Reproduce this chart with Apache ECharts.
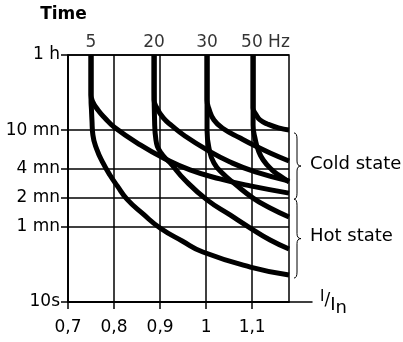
<!DOCTYPE html>
<html><head><meta charset="utf-8">
<script src="https://cdn.jsdelivr.net/npm/echarts@6/dist/echarts.min.js"></script>
<style>html,body{margin:0;padding:0;background:#fff}#c{width:403px;height:342px}</style>
</head><body><div id="c"></div>
<script>
// ---- data ----
const freqNames = ['5', '20', '30', '50 Hz'];
const xTickValues = [0.7, 0.8, 0.9, 1.0, 1.1];
const xTickLabels = ['0,7', '0,8', '0,9', '1', '1,1'];
const yTickValues = [10, 60, 120, 240, 600, 3600];
const yTickLabels = ['10s', '1 mn', '2 mn', '4 mn', '10 mn', '1 h'];
// [I/In, seconds]
const cold5  = [[0.750,3600],[0.750,1800],[0.750,1390],[0.754,1176],[0.765,972],[0.780,803],[0.800,648],[0.857,422],[0.907,310],[0.965,233],[1.030,188],[1.096,159],[1.180,134]];
const hot5   = [[0.750,3600],[0.750,1800],[0.750,1234],[0.751,972],[0.752,766],[0.754,536],[0.763,375],[0.776,275],[0.791,206],[0.807,159],[0.828,116],[0.863,81.5],[0.900,58.3],[0.948,42.8],[0.993,32.9],[1.096,23.0],[1.180,19.0]];
const cold20 = [[0.887,3600],[0.887,1800],[0.887,1234],[0.893,1019],[0.907,803],[0.926,664],[0.954,523],[1.002,375],[1.052,281],[1.107,222],[1.180,179]];
const hot20  = [[0.887,3600],[0.887,1565],[0.888,766],[0.891,475],[0.902,349],[0.922,275],[0.954,183],[1.002,114],[1.052,79.6],[1.096,58.3],[1.139,43.8],[1.180,35.4]];
const cold30 = [[1.002,3600],[1.002,1800],[1.002,1234],[1.007,972],[1.017,766],[1.035,633],[1.074,498],[1.107,412],[1.139,349],[1.180,288]];
const hot30  = [[1.002,3600],[1.002,1390],[1.002,603],[1.007,375],[1.017,275],[1.035,216],[1.063,166],[1.102,119],[1.139,94],[1.180,75.9]];
const cold50 = [[1.102,3600],[1.102,1800],[1.102,1019],[1.109,863],[1.117,766],[1.133,696],[1.157,633],[1.180,603]];
const hot50  = [[1.102,3600],[1.102,1390],[1.102,680],[1.107,475],[1.113,375],[1.124,295],[1.143,233],[1.161,201],[1.180,175]];
const stateNames = ['Cold state', 'Hot state'];
const stateRanges = [[562, 116], [116, 17.7]]; // seconds spanned by each brace

// ---- chart ----
const FONT = 'DejaVu Sans';
const chart = echarts.init(document.getElementById('c'), null, {renderer: 'canvas'});
const colds = [cold5, cold20, cold30, cold50];
const hots = [hot5, hot20, hot30, hot50];
const lineStyle = {color: '#000', width: 5};
const series = [];
colds.concat(hots).forEach(d => {
  series.push({type: 'line', data: d, smooth: 0.5, showSymbol: false, symbol: 'none', clip: false,
    lineStyle, z: 5, silent: true});
});
// frequency labels above the top of each curve pair
series.push({
  type: 'scatter', symbolSize: 0, silent: true, z: 6,
  label: {show: true, position: 'top', distance: 4, color: '#000', fontFamily: FONT, fontSize: 17,
    formatter: p => freqNames[p.dataIndex]},
  data: colds.map((c, i) => i === 3
    ? {value: c[0], label: {align: 'left', offset: [-12, 0]}}
    : {value: c[0]})
});

const option = {
  backgroundColor: '#fff',
  animation: false,
  grid: [
    {left: 68, right: 114, top: 55, bottom: 40, show: true, borderColor: '#000', borderWidth: 1.5, backgroundColor: 'transparent'},
    {left: 68, right: 91, top: 55, bottom: 40}
  ],
  xAxis: [
    {type: 'value', gridIndex: 0, min: 0.7, max: 1.18,
      axisLine: {show: true, lineStyle: {color: '#000', width: 1.5}},
      axisTick: {show: true, length: 7, customValues: xTickValues, lineStyle: {color: '#000', width: 1.5}},
      axisLabel: {show: true, customValues: xTickValues, margin: 17, color: '#000', fontFamily: FONT, fontSize: 17,
        formatter: v => { const k = xTickValues.findIndex(t => Math.abs(t - v) < 1e-6); return k >= 0 ? xTickLabels[k] : ''; }},
      splitLine: {show: true, lineStyle: {color: '#000', width: 1.5}}},
    {type: 'value', gridIndex: 1, min: 0.7, max: 1.23,
      axisLine: {show: true, lineStyle: {color: '#000', width: 1.5}},
      axisTick: {show: false}, axisLabel: {show: false}, splitLine: {show: false},
      name: '{a|I}{s|/}{b|I}{c|n}', nameLocation: 'end', nameGap: 8,
      nameTextStyle: {color: '#000', fontFamily: FONT,
        rich: {
          a: {fontSize: 15, fontFamily: FONT, color: '#000', padding: [0, 0, 10, 0]},
          s: {fontSize: 17, fontFamily: FONT, color: '#000', padding: [0, 0, 2, 0]},
          b: {fontSize: 18, fontFamily: FONT, color: '#000', padding: [6, 0, 0, 0]},
          c: {fontSize: 18, fontFamily: FONT, color: '#000', padding: [12, 0, 0, 0]}
        }}}
  ],
  yAxis: [
    {type: 'log', logBase: 10, gridIndex: 0, min: 10, max: 3600,
      name: 'Time', nameLocation: 'end', nameGap: 32,
      nameTextStyle: {color: '#000', fontFamily: FONT, fontSize: 17, fontWeight: 'bold', align: 'center', padding: [0, 9, 0, 0]},
      axisLine: {show: true, lineStyle: {color: '#000', width: 1.5}},
      axisTick: {show: true, length: 7, customValues: yTickValues, lineStyle: {color: '#000', width: 1.5}},
      axisLabel: {show: true, customValues: yTickValues, margin: 8, color: '#000', fontFamily: FONT, fontSize: 17,
        formatter: v => { const k = yTickValues.findIndex(t => Math.abs(t - v) / t < 1e-6); return k >= 0 ? yTickLabels[k] : ''; }},
      splitLine: {show: true, lineStyle: {color: '#000', width: 1.5}}},
    {type: 'value', gridIndex: 1, show: false}
  ],
  series
};
chart.setOption(option);

// braces and state labels anchored to the y axis values
const gx = chart.convertToPixel({xAxisIndex: 0}, 1.18);
const bs = {fill: 'none', stroke: '#000', lineWidth: 1};
const graphics = [];
stateRanges.forEach((r, i) => {
  const y1 = chart.convertToPixel({yAxisIndex: 0}, r[0]);
  const y2 = chart.convertToPixel({yAxisIndex: 0}, r[1]);
  const x = gx + 8, m = (y1 + y2) / 2;
  graphics.push(
    {type: 'bezierCurve', shape: {x1: x - 3, y1: y1, cpx1: x, cpy1: y1, x2: x, y2: y1 + 6}, style: bs},
    {type: 'line', shape: {x1: x, y1: y1 + 6, x2: x, y2: m - 5}, style: bs},
    {type: 'bezierCurve', shape: {x1: x, y1: m - 5, cpx1: x, cpy1: m, x2: x + 4, y2: m}, style: bs},
    {type: 'bezierCurve', shape: {x1: x + 4, y1: m, cpx1: x, cpy1: m, x2: x, y2: m + 5}, style: bs},
    {type: 'line', shape: {x1: x, y1: m + 5, x2: x, y2: y2 - 6}, style: bs},
    {type: 'bezierCurve', shape: {x1: x, y1: y2 - 6, cpx1: x, cpy1: y2, x2: x - 3, y2: y2}, style: bs},
    {type: 'text', x: gx + 21, y: m - 2,
      style: {text: stateNames[i], fill: '#000', font: `18px "${FONT}"`, verticalAlign: 'middle', textVerticalAlign: 'middle'}}
  );
});
chart.setOption({graphic: graphics});
</script></body></html>
